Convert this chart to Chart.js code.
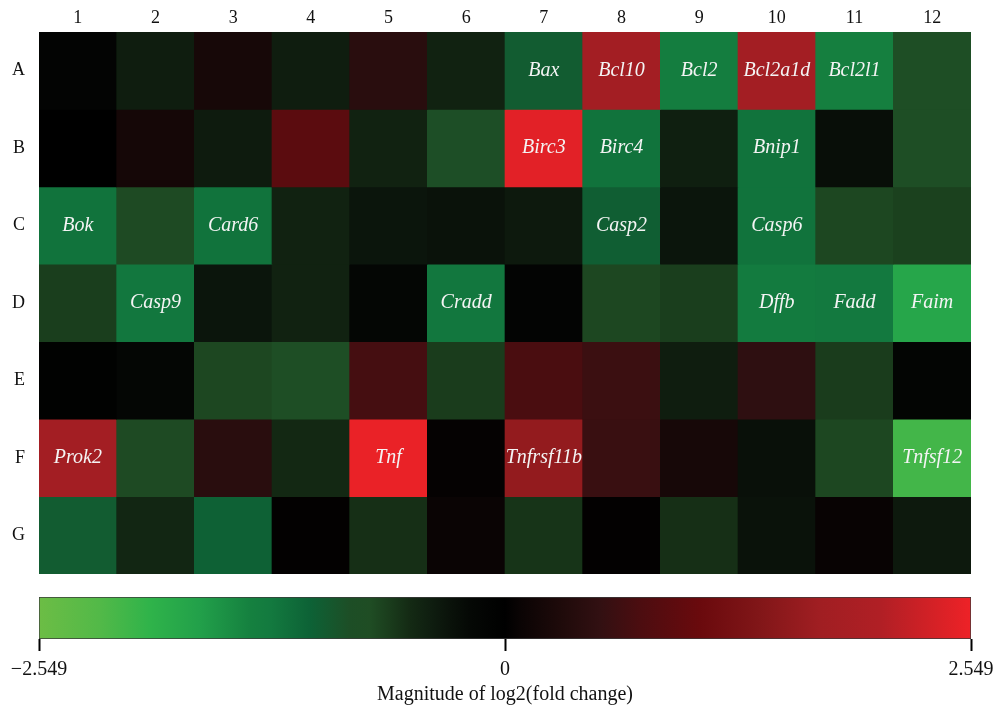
<!DOCTYPE html>
<html>
<head>
<meta charset="utf-8">
<script src="https://cdn.jsdelivr.net/npm/chart.js@4"></script>
<style>
  body { margin: 0; background: #fff; }
  canvas { display: block; }
</style>
</head>
<body>
<canvas id="heat" width="996" height="585"></canvas>
<canvas id="bar" width="996" height="127"></canvas>
<script>
const colLabels = ["1", "2", "3", "4", "5", "6", "7", "8", "9", "10", "11", "12"];
const rowLabels = ["A", "B", "C", "D", "E", "F", "G"];

// log2 fold change per well, plate rows A-G
const rowA = [-0.1, -0.4, 0.22, -0.4, 0.42, -0.45, -1.0, 1.78, -1.33, 1.78, -1.38, -0.8];
const rowB = [0.0, 0.2, -0.38, 0.9, -0.45, -0.85, 2.45, -1.22, -0.42, -1.22, -0.26, -0.8];
const rowC = [-1.22, -0.72, -1.22, -0.45, -0.33, -0.3, -0.36, -1.02, -0.33, -1.22, -0.7, -0.66];
const rowD = [-0.64, -1.26, -0.33, -0.45, -0.14, -1.26, -0.1, -0.7, -0.64, -1.3, -1.28, -1.75];
const rowE = [-0.04, -0.15, -0.7, -0.8, 0.68, -0.63, 0.72, 0.6, -0.4, 0.48, -0.63, -0.12];
const rowF = [1.78, -0.72, 0.42, -0.5, 2.52, 0.04, 1.58, 0.58, 0.22, -0.28, -0.7, -2.1];
const rowG = [-1.0, -0.48, -1.06, 0.02, -0.55, 0.08, -0.58, 0.02, -0.55, -0.3, 0.06, -0.36];

const genesA = ["", "", "", "", "", "", "Bax", "Bcl10", "Bcl2", "Bcl2a1d", "Bcl2l1", ""];
const genesB = ["", "", "", "", "", "", "Birc3", "Birc4", "", "Bnip1", "", ""];
const genesC = ["Bok", "", "Card6", "", "", "", "", "Casp2", "", "Casp6", "", ""];
const genesD = ["", "Casp9", "", "", "", "Cradd", "", "", "", "Dffb", "Fadd", "Faim"];
const genesE = ["", "", "", "", "", "", "", "", "", "", "", ""];
const genesF = ["Prok2", "", "", "", "Tnf", "", "Tnfrsf11b", "", "", "", "", "Tnfsf12"];
const genesG = ["", "", "", "", "", "", "", "", "", "", "", ""];

const scaleMin = -2.549;
const scaleMax = 2.549;
const scaleTicks = [-2.549, 0, 2.549];

const rows = [rowA, rowB, rowC, rowD, rowE, rowF, rowG];
const genes = [genesA, genesB, genesC, genesD, genesE, genesF, genesG];

// green - black - red colour map
const stops = [
  [-2.549, "#6cbd45"], [-2.215, "#52b948"], [-1.94, "#2fb34a"], [-1.67, "#22a04a"],
  [-1.39, "#15803f"], [-1.285, "#137a3f"], [-1.067, "#0d6236"], [-0.85, "#1d4e26"],
  [-0.74, "#1f4d24"], [-0.63, "#1a3c1c"], [-0.52, "#142a14"], [-0.41, "#0f1e10"],
  [-0.3, "#0a120a"], [-0.19, "#050805"], [0, "#000000"], [0.08, "#0a0404"],
  [0.3, "#1e0a0a"], [0.52, "#321012"], [0.74, "#4c0d10"], [1.067, "#6a0a0d"],
  [1.39, "#811618"], [1.72, "#a01e22"], [2.05, "#b01f25"], [2.549, "#ee2227"]
];

const hexRgb = (h) => [1, 3, 5].map((i) => parseInt(h.slice(i, i + 2), 16));

function colorFor(v) {
  if (v <= stops[0][0]) return stops[0][1];
  for (let i = 1; i < stops.length; i++) {
    if (v <= stops[i][0]) {
      const [v0, c0] = stops[i - 1];
      const [v1, c1] = stops[i];
      const t = (v - v0) / (v1 - v0);
      const a = hexRgb(c0), b = hexRgb(c1);
      const m = a.map((x, k) => Math.round(x + (b[k] - x) * t));
      return `rgb(${m[0]},${m[1]},${m[2]})`;
    }
  }
  return stops[stops.length - 1][1];
}

const serif = "'Liberation Serif', 'Times New Roman', serif";

// keep the plot area where the layout padding puts it
const noOverhang = (s) => {
  s.paddingTop = 0;
  s.paddingBottom = 0;
  s.paddingLeft = 0;
  s.paddingRight = 0;
};

const geneText = {
  id: "geneText",
  afterDatasetsDraw(chart) {
    const c = chart.ctx;
    c.save();
    c.font = `italic 20px ${serif}`;
    c.fillStyle = "#f4f4f4";
    c.textAlign = "center";
    c.textBaseline = "middle";
    genes.forEach((row, i) => {
      const meta = chart.getDatasetMeta(i);
      row.forEach((name, j) => {
        if (!name) return;
        const el = meta.data[j];
        c.fillText(name, el.x, (el.y + el.base) / 2);
      });
    });
    c.restore();
  },
};

new Chart(document.getElementById("heat"), {
  type: "bar",
  data: {
    labels: colLabels,
    datasets: rows.map((vals, i) => ({
      label: rowLabels[i],
      data: vals.map(() => [i, i + 1]),
      backgroundColor: vals.map(colorFor),
      borderWidth: 0,
      grouped: false,
      barPercentage: 1,
      categoryPercentage: 1,
    })),
  },
  options: {
    responsive: false,
    animation: false,
    layout: { padding: { left: 0, top: 0, right: 25, bottom: 11 } },
    plugins: { legend: { display: false }, tooltip: { enabled: false } },
    scales: {
      x: {
        position: "top",
        grid: { display: false, drawTicks: false },
        border: { display: false },
        ticks: { color: "#111", font: { family: serif, size: 18 }, padding: 3 },
        afterFit: (s) => { s.height = 32; noOverhang(s); },
      },
      y: {
        min: 0,
        max: 7,
        reverse: true,
        grid: { display: false, drawTicks: false },
        border: { display: false },
        afterBuildTicks: (s) => { s.ticks = rowLabels.map((_, i) => ({ value: i + 0.5 })); },
        ticks: {
          color: "#111",
          font: { family: serif, size: 18 },
          padding: 14,
          callback: (v) => rowLabels[Math.floor(v)],
        },
        afterFit: (s) => { s.width = 39; noOverhang(s); },
      },
    },
  },
  plugins: [geneText],
});

// colour key
new Chart(document.getElementById("bar"), {
  type: "bar",
  data: {
    labels: ["key"],
    datasets: [{
      data: [[scaleMin, scaleMax]],
      backgroundColor: (ctx) => {
        const chart = ctx.chart;
        const area = chart.chartArea;
        if (!area) return "#000";
        const g = chart.ctx.createLinearGradient(area.left, 0, area.right, 0);
        stops.forEach(([v, col]) => g.addColorStop((v - scaleMin) / (scaleMax - scaleMin), col));
        return g;
      },
      borderColor: "#3a3a3a",
      borderWidth: 1,
      borderSkipped: false,
      barPercentage: 1,
      categoryPercentage: 1,
    }],
  },
  options: {
    indexAxis: "y",
    responsive: false,
    animation: false,
    layout: { padding: { left: 39, top: 12, right: 25, bottom: 0 } },
    plugins: { legend: { display: false }, tooltip: { enabled: false } },
    scales: {
      y: { display: false },
      x: {
        min: scaleMin,
        max: scaleMax,
        grid: { drawOnChartArea: false, tickLength: 12, tickColor: "#000", tickWidth: 2 },
        border: { display: false },
        afterBuildTicks: (s) => { s.ticks = scaleTicks.map((v) => ({ value: v })); },
        ticks: {
          autoSkip: false,
          maxRotation: 0,
          color: "#111",
          font: { family: serif, size: 20 },
          padding: 7,
          callback: (v) => (v < 0 ? "\u2212" + Math.abs(v).toFixed(3) : v === 0 ? "0" : v.toFixed(3)),
        },
        title: {
          display: true,
          text: "Magnitude of log2(fold change)",
          color: "#111",
          font: { family: serif, size: 20 },
          padding: { top: 4, bottom: 5 },
        },
        afterFit: (s) => { s.height = 73; noOverhang(s); },
      },
    },
  },
});
</script>
</body>
</html>
